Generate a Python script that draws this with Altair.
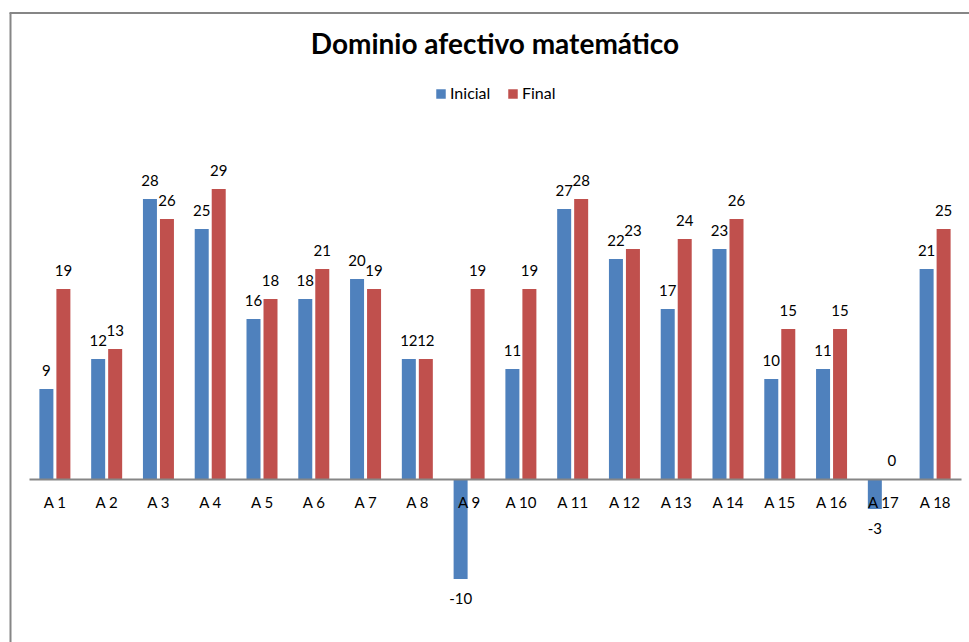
import altair as alt
import pandas as pd

categories = [f"A {i}" for i in range(1, 19)]
inicial = [9, 12, 28, 25, 16, 18, 20, 12, -10, 11, 27, 22, 17, 23, 10, 11, -3, 21]
final = [19, 13, 26, 29, 18, 21, 19, 12, 19, 19, 28, 23, 24, 26, 15, 15, 0, 25]
series = ["Inicial", "Final"]
colors = ["#4F81BD", "#C0504D"]

rows = []
for c, a, b in zip(categories, inicial, final):
    rows.append({"cat": c, "serie": "Inicial", "valor": a})
    rows.append({"cat": c, "serie": "Final", "valor": b})
df = pd.DataFrame(rows)

FONT = "Lato"
YDOM = [-15, 35]

x = alt.X("cat:N", sort=categories, title=None,
          scale=alt.Scale(paddingInner=0.38, paddingOuter=0.19),
          axis=alt.Axis(offset=-150, domain=True, domainColor="#868686", domainWidth=2,
                        ticks=False, labelAngle=0, zindex=1,
                        labelPadding=16, labelFontSize=15, labelFont=FONT,
                        labelColor="#000000", grid=False))
y = alt.Y("valor:Q", scale=alt.Scale(domain=YDOM, nice=False, zero=False), axis=None)
color = alt.Color("serie:N", sort=series,
                  scale=alt.Scale(domain=series, range=colors),
                  legend=alt.Legend(title=None, orient="none", direction="horizontal",
                                    legendX=404, legendY=-43, symbolType="square",
                                    symbolSize=90, symbolStrokeWidth=0,
                                    labelFontSize=16, labelFont=FONT, labelColor="#000000",
                                    labelOffset=1, columnPadding=14))

base = alt.Chart(df).transform_calculate(label="toString(datum.valor)")
offsets = {"Inicial": -8.5, "Final": 8.5}

layers = []
for s in series:
    sub = base.transform_filter(f"datum.serie == '{s}'")
    layers.append(sub.mark_bar(width=14, xOffset=offsets[s]).encode(
        x=x, y=y, y2=alt.datum(0), color=color))
for s in series:
    sub = base.transform_filter(f"datum.serie == '{s}'")
    layers.append(sub.transform_filter("datum.valor >= 0").mark_text(
        fontSize=15, font=FONT, color="#000000", dy=-18, dx=offsets[s], baseline="middle"
    ).encode(x=x, y=y, text="label:N"))
    layers.append(sub.transform_filter("datum.valor < 0").mark_text(
        fontSize=15, font=FONT, color="#000000", dy=20, dx=offsets[s], baseline="middle"
    ).encode(x=x, y=y, text="label:N"))

one = base.transform_filter("datum.cat == 'A 1' && datum.serie == 'Inicial'")
frame_left = one.mark_rule(color="#868686", strokeWidth=2).encode(
    x=alt.value(-18.5), y=alt.value(-116), y2=alt.value(520))
frame_top = one.mark_rule(color="#868686", strokeWidth=2).encode(
    x=alt.value(-19.5), x2=alt.value(950), y=alt.value(-116))

chart = alt.layer(*layers, frame_left, frame_top).properties(
    width=932, height=500,
    title=alt.TitleParams("Dominio afectivo matemático", font=FONT, fontSize=28,
                          fontWeight="bold", color="#000000", anchor="middle",
                          baseline="alphabetic", offset=-70),
    autosize=alt.AutoSizeParams(type="none"),
    padding={"left": 29, "top": 129, "right": 8, "bottom": 13},
).configure_view(stroke=None)

chart.save("out.html", embed_options={"renderer": "svg", "actions": False})
